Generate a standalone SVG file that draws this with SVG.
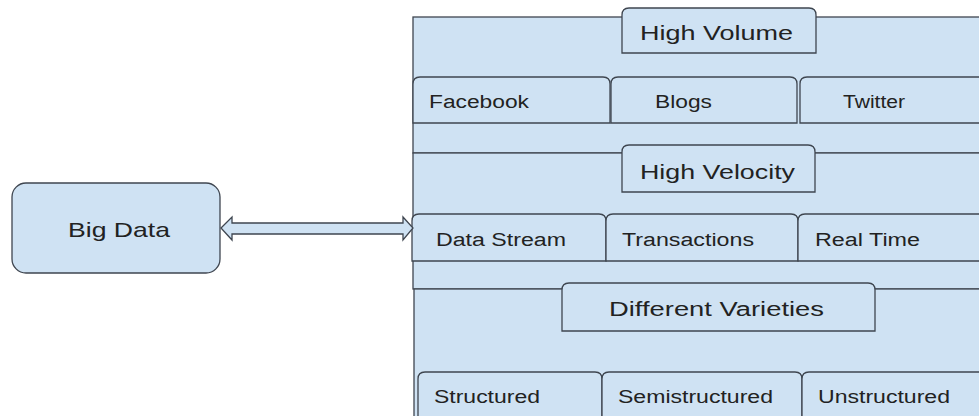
<svg xmlns="http://www.w3.org/2000/svg" width="979" height="416" viewBox="0 0 979 416">
<style>
.s{fill:#cfe2f3;stroke:#3f4650;stroke-width:1.3}
.t{font-family:"Liberation Sans",Arial,sans-serif;fill:#222;}
</style>
<rect width="979" height="416" fill="#fff"/>
<g id="sections">
<rect class="s" x="413" y="17" width="580" height="136"/>
<rect class="s" x="413" y="153" width="580" height="136"/>
<rect class="s" x="414" y="289" width="580" height="140"/>
</g>
<g id="high-volume">
<path class="s" d="M622,53 V15 Q622,8 629,8 H809 Q816,8 816,15 V53 Z"/>
<text class="t" x="640" y="40" font-size="21" textLength="153" lengthAdjust="spacingAndGlyphs">High Volume</text>
</g>
<g id="facebook">
<path class="s" d="M413,123 V84 Q413,77 420,77 H603 Q610,77 610,84 V123 Z"/>
<text class="t" x="429" y="108" font-size="18" textLength="100" lengthAdjust="spacingAndGlyphs">Facebook</text>
</g>
<g id="blogs">
<path class="s" d="M611,123 V84 Q611,77 618,77 H790 Q797,77 797,84 V123 Z"/>
<text class="t" x="655" y="108" font-size="18" textLength="57" lengthAdjust="spacingAndGlyphs">Blogs</text>
</g>
<g id="twitter">
<path class="s" d="M800,123 V84 Q800,77 807,77 H985 V123 Z"/>
<text class="t" x="843" y="108" font-size="18" textLength="62" lengthAdjust="spacingAndGlyphs">Twitter</text>
</g>
<g id="high-velocity">
<path class="s" d="M622,192 V152 Q622,145 629,145 H808 Q815,145 815,152 V192 Z"/>
<text class="t" x="640" y="179" font-size="21" textLength="155" lengthAdjust="spacingAndGlyphs">High Velocity</text>
</g>
<g id="data-stream">
<path class="s" d="M412,261 V221 Q412,214 419,214 H599 Q606,214 606,221 V261 Z"/>
<text class="t" x="436" y="246" font-size="18" textLength="130" lengthAdjust="spacingAndGlyphs">Data Stream</text>
</g>
<g id="transactions">
<path class="s" d="M606,261 V221 Q606,214 613,214 H791 Q798,214 798,221 V261 Z"/>
<text class="t" x="622" y="246" font-size="18" textLength="132" lengthAdjust="spacingAndGlyphs">Transactions</text>
</g>
<g id="real-time">
<path class="s" d="M798,261 V221 Q798,214 805,214 H985 V261 Z"/>
<text class="t" x="815" y="246" font-size="18" textLength="105" lengthAdjust="spacingAndGlyphs">Real Time</text>
</g>
<g id="different-varieties">
<path class="s" d="M562,331 V290 Q562,283 569,283 H868 Q875,283 875,290 V331 Z"/>
<text class="t" x="609" y="316" font-size="20" textLength="215" lengthAdjust="spacingAndGlyphs">Different Varieties</text>
</g>
<g id="structured">
<path class="s" d="M418,425 V379 Q418,372 425,372 H595 Q602,372 602,379 V425 Z"/>
<text class="t" x="434" y="403" font-size="18" textLength="106" lengthAdjust="spacingAndGlyphs">Structured</text>
</g>
<g id="semistructured">
<path class="s" d="M602,425 V379 Q602,372 609,372 H795 Q802,372 802,379 V425 Z"/>
<text class="t" x="618" y="403" font-size="18" textLength="155" lengthAdjust="spacingAndGlyphs">Semistructured</text>
</g>
<g id="unstructured">
<path class="s" d="M802,425 V379 Q802,372 809,372 H985 V425 Z"/>
<text class="t" x="818" y="403" font-size="18" textLength="132" lengthAdjust="spacingAndGlyphs">Unstructured</text>
</g>
<g id="big-data">
<rect class="s" x="12" y="183" width="208" height="90" rx="14"/>
<text class="t" x="68" y="237" font-size="21" textLength="102" lengthAdjust="spacingAndGlyphs">Big Data</text>
</g>
<g id="connectors">
<polygon class="s" points="221,228 232,217 232,223 403,223 403,217 413,228 403,240 403,234 232,234 232,240"/>
</g>
</svg>
